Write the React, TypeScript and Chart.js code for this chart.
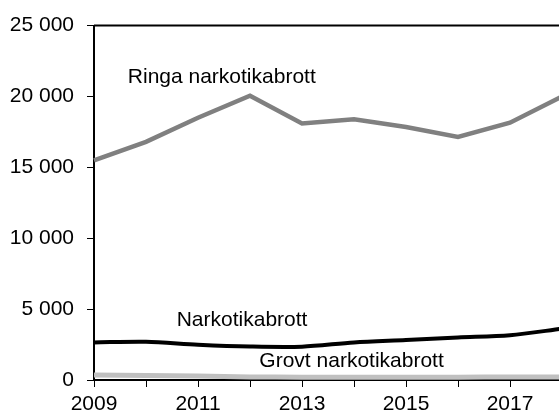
import { useEffect, useRef } from 'react';
import { Chart, registerables } from 'chart.js';

Chart.register(...registerables);

const years = ['2009', '2010', '2011', '2012', '2013', '2014', '2015', '2016', '2017', '2018'];
const ringa = [15500, 16800, 18500, 20050, 18100, 18400, 17850, 17150, 18150, 20000];
const narkotika = [2650, 2700, 2490, 2360, 2350, 2650, 2820, 3000, 3160, 3620];
const grovt = [350, 320, 280, 220, 200, 190, 190, 200, 210, 220];
const seriesNames = ['Ringa narkotikabrott', 'Narkotikabrott', 'Grovt narkotikabrott'];
const yTickValues = [0, 5000, 10000, 15000, 20000, 25000];

// label anchor positions (category index, value)
const labelX = [0.65, 1.59, 3.18];
const labelY = [20980, 3830, 900];

const fmt = (v: number) => {
  const s = String(Math.round(v));
  return s.replace(/\B(?=(\d{3})+(?!\d))/g, ' ');
};

const FONT = '"Liberation Sans", Arial, sans-serif';
const FS = 21;

export default function App() {
  const ref = useRef<HTMLCanvasElement | null>(null);
  useEffect(() => {
    if (!ref.current) return;
    const labelPlugin = {
      id: 'labels',
      afterDraw(chart: any) {
        const { ctx, chartArea, scales } = chart;
        ctx.save();
        ctx.strokeStyle = '#000';
        ctx.lineWidth = 2;
        ctx.beginPath();
        ctx.moveTo(chartArea.left, chartArea.top);
        ctx.lineTo(chartArea.right + 20, chartArea.top);
        ctx.stroke();
        ctx.fillStyle = '#000';
        ctx.font = `${FS}px ${FONT}`;
        ctx.textAlign = 'left';
        ctx.textBaseline = 'alphabetic';
        seriesNames.forEach((name, i) => {
          const x = scales.x.getPixelForValue(labelX[i]);
          const y = scales.y.getPixelForValue(labelY[i]);
          ctx.fillText(name, x, y);
        });
        ctx.restore();
      },
    };
    const chart = new Chart(ref.current, {
      type: 'line',
      data: {
        labels: years,
        datasets: [
          {
            label: seriesNames[0],
            data: ringa,
            borderColor: '#808080',
            borderWidth: 4.5,
            pointRadius: 0,
            tension: 0,
          },
          {
            label: seriesNames[1],
            data: narkotika,
            borderColor: '#000000',
            borderWidth: 4,
            pointRadius: 0,
            tension: 0.3,
          },
          {
            label: seriesNames[2],
            data: grovt,
            borderColor: '#c0c0c0',
            borderWidth: 5,
            pointRadius: 0,
            tension: 0.3,
          },
        ],
      },
      options: {
        animation: false,
        responsive: false,
        layout: { padding: { top: 24, right: 18, left: 0, bottom: 0 } },
        plugins: { legend: { display: false }, tooltip: { enabled: false } },
        scales: {
          x: {
            type: 'category',
            offset: false,
            afterFit: (s: any) => {
              s.height = 34;
            },
            border: { display: true, color: '#000', width: 2 },
            grid: {
              display: true,
              drawOnChartArea: false,
              drawTicks: true,
              tickLength: 7,
              color: '#000',
              lineWidth: 1,
            },
            ticks: {
              autoSkip: false,
              maxRotation: 0,
              padding: 5,
              color: '#000',
              font: { family: FONT, size: FS },
              callback: (_v: any, i: number) => (i % 2 === 0 ? years[i] : ''),
            },
          },
          y: {
            min: 0,
            max: 25000,
            afterFit: (s: any) => {
              s.width = 94;
            },
            afterBuildTicks: (s: any) => {
              s.ticks = yTickValues.map((v) => ({ value: v }));
            },
            border: { display: true, color: '#000', width: 2 },
            grid: {
              display: true,
              drawOnChartArea: false,
              drawTicks: true,
              tickLength: 7,
              color: '#000',
              lineWidth: 1,
            },
            ticks: {
              padding: 13,
              color: '#000',
              font: { family: FONT, size: FS },
              callback: (v: any) => fmt(Number(v)),
            },
          },
        },
      },
      plugins: [labelPlugin],
    });
    return () => chart.destroy();
  }, []);
  return (
    <div
      style={{
        position: 'fixed',
        left: 0,
        top: 0,
        width: 559,
        height: 414,
        overflow: 'hidden',
        background: '#fff',
      }}
    >
      <canvas ref={ref} width={580} height={414} style={{ display: 'block', width: 580, height: 414 }} />
    </div>
  );
}
